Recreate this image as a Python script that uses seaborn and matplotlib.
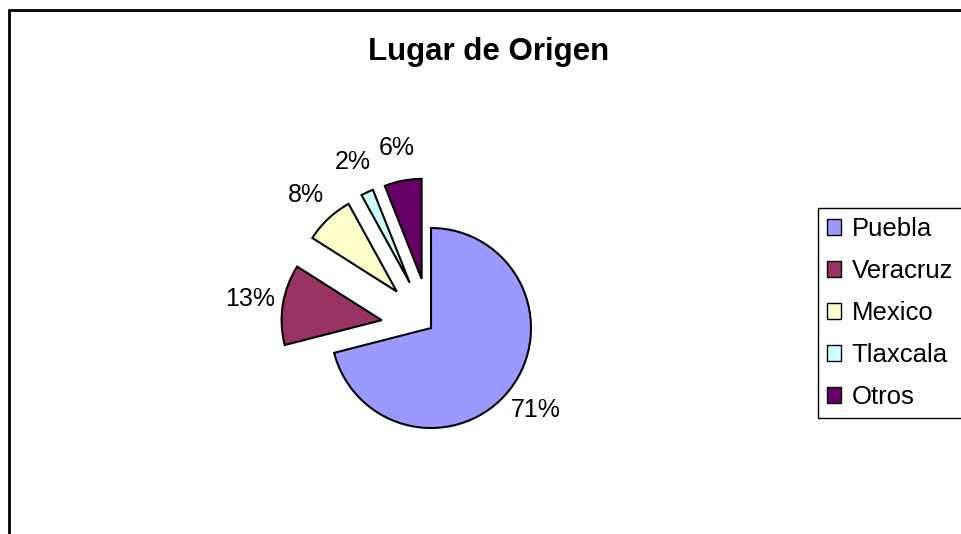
import matplotlib
matplotlib.use("Agg")
import matplotlib.pyplot as plt
import seaborn as sns
from matplotlib.patches import Patch
from matplotlib.lines import Line2D

sns.set_theme(style="white")
plt.rcParams['font.family'] = ['Liberation Sans', 'DejaVu Sans']
plt.rcParams['text.color'] = 'black'

# data
places = ["Puebla", "Veracruz", "Mexico", "Tlaxcala", "Otros"]
shares = [71, 13, 8, 2, 6]
colors = ["#9999FF", "#993366", "#FFFFCC", "#CCFFFF", "#660066"]
explode = [0, 0.5, 0.5, 0.5, 0.5]

fig = plt.figure(figsize=(9.61, 5.34), dpi=100)
ax = fig.add_axes([0, 0, 1, 1])

wedges, texts, autotexts = ax.pie(
    shares, colors=colors, explode=explode, startangle=90, counterclock=False,
    autopct='%1.0f%%', pctdistance=1.33,
    wedgeprops=dict(edgecolor="black", linewidth=1.5),
    textprops=dict(fontsize=18, color="black"))

# 1 unit = pie radius = 100 px, center at (431, 328) px
ax.set_xlim(-4.31, 5.30)
ax.set_ylim(-2.06, 3.28)
ax.set_aspect('equal')
ax.axis('off')

fig.text(489 / 961, 1 - 52 / 534, "Lugar de Origen", ha='center', va='center',
         fontsize=22.5, fontweight='bold', color='black')

handles = [Patch(facecolor=c, edgecolor='black', linewidth=1) for c in colors]
leg = fig.legend(handles, places, loc='upper left',
                 bbox_to_anchor=(818 / 961, 1 - 208 / 534), borderaxespad=0,
                 fontsize=18.5, frameon=True, fancybox=False, framealpha=1,
                 edgecolor='black', handlelength=0.55, handleheight=0.55,
                 handletextpad=0.4, labelspacing=0.7, borderpad=0.35,
                 labelcolor='black')
leg.get_frame().set_linewidth(1)

# outer frame (top and left edges visible)
top = 1 - 10 / 534
left = 9 / 961
fig.add_artist(Line2D([left, 1], [top, top], transform=fig.transFigure,
                      color='black', linewidth=2))
fig.add_artist(Line2D([left, left], [0, top], transform=fig.transFigure,
                      color='black', linewidth=2))

fig.savefig("out.png", dpi=100)
